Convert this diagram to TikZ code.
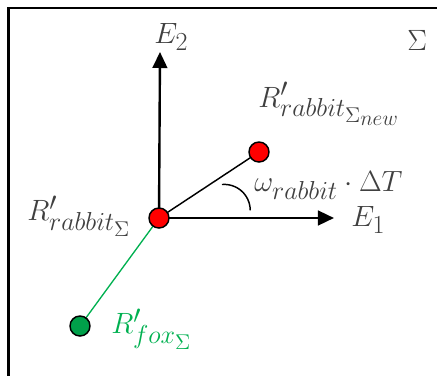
\RequirePackage{fix-cm}
\documentclass[tikz,border=0pt]{standalone}
\usetikzlibrary{arrows.meta}
\DeclareMathSizes{22}{22}{19.5}{16}
\definecolor{txt}{HTML}{404040}
\definecolor{fgreen}{HTML}{00B050}
\definecolor{dgreen}{HTML}{00A04A}
\begin{document}
\begin{tikzpicture}[x=0.75pt,y=-0.75pt,
  lbl/.style={text=txt,font=\fontsize{22}{26}\selectfont,inner sep=0pt,anchor=west},
  dot/.style={circle,draw=black,line width=1.1pt,minimum size=15pt,inner sep=0pt},
  axis/.style={line width=1.8pt,-{Triangle[length=12pt,width=11pt]}}]
\useasboundingbox (0,0) rectangle (437,376);
\draw[line width=1.8pt] (8.5,376) -- (8.5,8) -- (437,8);
\coordinate (e2) at (160,52);
\coordinate (e1) at (334,218);
\coordinate (O0) at (159,218);
\coordinate (N0) at (259,152);
\coordinate (F0) at (80,326);
\draw[axis] (O0) -- (e2);
\draw[axis] (O0) -- (e1);
\draw[line width=1.1pt] (O0) -- (N0);
\draw[fgreen,line width=1pt] (O0) -- (F0);
\draw[line width=1.1pt] (222,184.5) arc[start angle=-95,end angle=0,radius=26];
\node[dot,fill=red] (O) at (O0) {};
\node[dot,fill=red] (N) at (N0) {};
\node[dot,fill=dgreen] (F) at (F0) {};
\node[lbl] (lE2) at (154,37) {$E_2$};
\node[lbl] (lSig) at (407,40) {$\Sigma$};
\node[lbl] (lnew) at (258,104) {$R'_{rabbit_{\Sigma_{new}}}$};
\node[lbl] (lom) at (254,185) {$\omega_{rabbit}\cdot\Delta T$};
\node[lbl] (lE1) at (351,220) {$E_1$};
\node[lbl] (lrab) at (27,216) {$R'_{rabbit_\Sigma}$};
\node[lbl,text=fgreen] (lfox) at (111,329) {$R'_{fox_\Sigma}$};
\end{tikzpicture}
\end{document}
